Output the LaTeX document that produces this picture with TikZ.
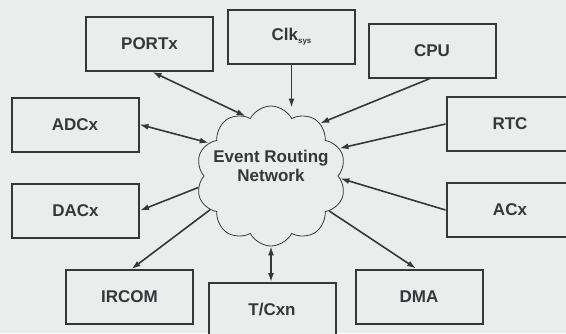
\documentclass[tikz,border=0pt]{standalone}
\usepackage{fontspec}
\setmainfont{Liberation Sans}
\usetikzlibrary{shapes.symbols,arrows.meta}
\definecolor{paper}{RGB}{233,237,236}
\definecolor{ink}{RGB}{55,55,58}
\begin{document}
\begin{tikzpicture}[x=1pt,y=-1pt,
  blk/.style={draw=ink,line width=2pt,fill=paper,minimum width=127pt,minimum height=54pt,inner sep=0pt,
    text=ink,font=\fontsize{17}{20}\selectfont\bfseries},
  conn/.style={draw=ink,line width=1.6pt},
  tip/.style={-{Latex[length=9pt,width=6pt]}},
  tips/.style={{Latex[length=9pt,width=6pt]}-{Latex[length=9pt,width=6pt]}}]
\fill[paper] (0,0) rectangle (566,333);
\clip (0,0) rectangle (566,333);
\useasboundingbox (0,0) rectangle (566,333);
\node[cloud,cloud puffs=10,cloud puff arc=125,aspect=1.05,draw=ink,line width=0.8pt,fill=paper,
  minimum width=150pt,minimum height=140pt] (net) at (271,176) {};
\node[text=ink,font=\fontsize{17}{19}\selectfont\bfseries,align=center] (nettext) at (271,166) {Event Routing\\Network};
\node[blk] (portx) at (149.5,44) {PORTx};
\node[blk] (clk) at (291.5,36.5) {Clk\raisebox{-0.3ex}{\fontsize{8}{9}\selectfont sys}};
\node[blk] (cpu) at (432,50.5) {CPU};
\node[blk] (adcx) at (75,124.5) {ADCx};
\node[blk] (rtc) at (510,124) {RTC};
\node[blk] (dacx) at (75.5,210.5) {DACx};
\node[blk] (acx) at (510,210) {ACx};
\node[blk] (ircom) at (129.5,297) {IRCOM};
\node[blk] (tcxn) at (272,310) {T/Cxn};
\node[blk] (dma) at (419,296.5) {DMA};
\draw[conn,tips] ([xshift=3pt]portx.south) -- (net.113);
\draw[conn,tips] (adcx.east) -- (net.152);
\draw[conn,tip] (clk.south) -- ([yshift=-2pt]clk.south |- net.north);
\draw[conn,tip] ([xshift=-2pt]cpu.south) -- (net.47);
\draw[conn,tip] (rtc.west) -- (net.22);
\draw[conn,tip] (acx.west) -- (net.-2);
\draw[conn,tip] (net.-31) -- ([xshift=-3pt]dma.north);
\draw[conn,tips] (net.south) -- (net.south |- tcxn.north);
\draw[conn,tip] (net.209) -- ([xshift=2pt]ircom.north);
\draw[conn,tip] (net.189) -- (dacx.east);
\end{tikzpicture}
\end{document}
